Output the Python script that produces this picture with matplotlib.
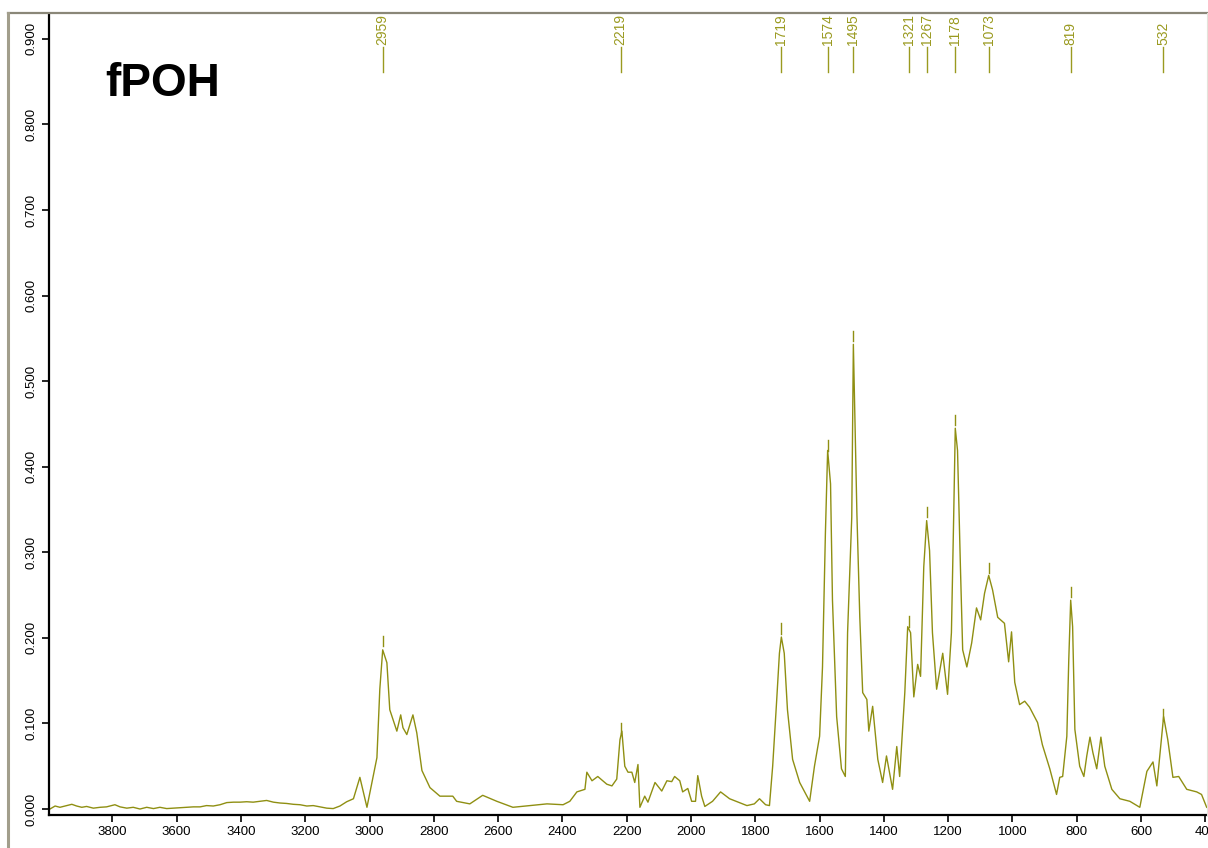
import numpy as np
import matplotlib
matplotlib.use("Agg")
import matplotlib.pyplot as plt
from matplotlib.lines import Line2D

# spectrum (wavenumber cm-1, absorbance)
wavenumber = [3994, 3978, 3963, 3942, 3926, 3911, 3895, 3880, 3859, 3838,
              3818, 3792, 3776, 3755, 3735, 3714, 3693, 3672, 3652, 3631,
              3610, 3590, 3569, 3548, 3527, 3507, 3486, 3465, 3444, 3423,
              3403, 3382, 3362, 3341, 3320, 3299, 3278, 3258, 3237, 3216,
              3195, 3175, 3154, 3133, 3113, 3092, 3071, 3050,
              3030, 3008, 2977, 2968, 2959, 2946, 2937,
              2915, 2903, 2896, 2884, 2865, 2853, 2837, 2812, 2781, 2741,
              2729, 2688, 2648, 2604, 2554, 2501, 2448, 2398, 2377, 2355,
              2330, 2324, 2308, 2290, 2262, 2246, 2231, 2221, 2215, 2206,
              2196, 2184, 2175, 2165, 2159, 2144, 2134, 2112, 2091, 2075,
              2060, 2051, 2035, 2026, 2010, 1998, 1986, 1979, 1967, 1957,
              1933, 1908, 1880, 1826, 1803, 1787, 1768, 1756, 1746, 1734,
              1725, 1719, 1710, 1700, 1684, 1662, 1631, 1616, 1600, 1591,
              1582, 1575, 1566, 1560, 1547, 1532, 1520, 1513, 1500, 1495,
              1484, 1475, 1466, 1453, 1447, 1435, 1419, 1404, 1392, 1373,
              1360, 1351, 1335, 1326, 1317, 1307, 1295, 1286, 1276, 1267,
              1258, 1249, 1236, 1217, 1202, 1190, 1183, 1178, 1171, 1162,
              1155, 1142, 1127, 1112, 1099, 1087, 1074, 1062, 1046, 1025,
              1012, 1003, 993, 978, 962, 947, 922, 907, 884, 863,
              853, 844, 831, 825, 819, 813, 806, 791, 778, 769,
              759, 750, 738, 725, 713, 691, 666, 635, 604, 582,
              563, 551, 535, 530, 517, 501, 483, 458, 427, 412, 396]
absorbance = [0.000, 0.0035, 0.002, 0.004, 0.0055, 0.0035, 0.002, 0.003, 0.001, 0.002,
              0.0025, 0.005, 0.0025, 0.001, 0.002, 0.000, 0.002, 0.0005, 0.002, 0.0005,
              0.001, 0.0015, 0.002, 0.0025, 0.0025, 0.004, 0.0035, 0.005, 0.0075, 0.008,
              0.008, 0.0085, 0.008, 0.009, 0.010, 0.008, 0.007, 0.0065, 0.0055, 0.005,
              0.0035, 0.004, 0.0025, 0.001, 0.0005, 0.0035, 0.0085, 0.012,
              0.037, 0.002, 0.06, 0.14, 0.186, 0.171, 0.116,
              0.091, 0.110, 0.095, 0.087, 0.110, 0.089, 0.045, 0.025, 0.015, 0.015,
              0.009, 0.006, 0.016, 0.009, 0.002, 0.004, 0.006, 0.005, 0.009, 0.02,
              0.023, 0.043, 0.033, 0.038, 0.029, 0.027, 0.035, 0.081, 0.091, 0.05,
              0.043, 0.043, 0.031, 0.052, 0.002, 0.015, 0.008, 0.031, 0.021, 0.033,
              0.032, 0.038, 0.033, 0.02, 0.024, 0.009, 0.009, 0.039, 0.015, 0.003,
              0.009, 0.02, 0.012, 0.004, 0.006, 0.012, 0.005, 0.004, 0.05, 0.124,
              0.182, 0.201, 0.182, 0.116, 0.058, 0.031, 0.009, 0.05, 0.085, 0.166,
              0.322, 0.419, 0.38, 0.244, 0.108, 0.047, 0.038, 0.206, 0.341, 0.543,
              0.345, 0.224, 0.136, 0.128, 0.091, 0.12, 0.058, 0.031, 0.062, 0.023,
              0.073, 0.038, 0.136, 0.213, 0.206, 0.131, 0.169, 0.155, 0.283, 0.337,
              0.302, 0.206, 0.14, 0.182, 0.134, 0.206, 0.341, 0.445, 0.419, 0.283,
              0.186, 0.166, 0.194, 0.235, 0.221, 0.252, 0.273, 0.256, 0.224, 0.217,
              0.172, 0.207, 0.148, 0.122, 0.126, 0.119, 0.101, 0.075, 0.047, 0.017,
              0.037, 0.038, 0.085, 0.174, 0.244, 0.213, 0.093, 0.05, 0.038, 0.062,
              0.084, 0.066, 0.047, 0.084, 0.05, 0.023, 0.012, 0.009, 0.002, 0.044,
              0.055, 0.027, 0.089, 0.108, 0.081, 0.037, 0.038, 0.023, 0.02, 0.017, 0.002]

peak_labels = [2959, 2219, 1719, 1574, 1495, 1321, 1267, 1178, 1073, 819, 532]
x_ticks = list(range(3800, 399, -200))
y_ticks = [0.0, 0.1, 0.2, 0.3, 0.4, 0.5, 0.6, 0.7, 0.8, 0.9]

line_col = "#8f8f12"
label_col = "#9a9a20"

plt.rcParams["font.family"] = ["Liberation Sans", "DejaVu Sans"]

fig = plt.figure(figsize=(12.08, 8.48), dpi=100)
ax = fig.add_axes([49 / 1208, 33 / 848, 1158 / 1208, 801 / 848])

ax.plot(wavenumber, absorbance, color=line_col, lw=1.0)

ax.set_xlim(3997, 395)
ax.set_ylim(-0.007, 0.929)
ax.set_xticks(x_ticks)
ax.set_xticklabels([str(t) for t in x_ticks], fontsize=9.5)
ax.set_yticks(y_ticks)
ax.set_yticklabels(["%.3f" % t for t in y_ticks], fontsize=9.5, rotation=90, va="center")
ax.tick_params(direction="out", length=5, width=1.2, color="black", pad=3)

for s in ["top", "right"]:
    ax.spines[s].set_visible(False)
for s in ["left", "bottom"]:
    ax.spines[s].set_linewidth(1.6)
    ax.spines[s].set_color("black")

# peak labels with their marker lines
wn_inc = wavenumber[::-1]
ab_inc = absorbance[::-1]
for p in peak_labels:
    h = np.interp(p, wn_inc, ab_inc)
    ax.plot([p, p], [h + 0.004, h + 0.016], color=line_col, lw=1.0)
    ax.plot([p, p], [0.861, 0.891], color=label_col, lw=1.0)
    ax.text(p, 0.893, str(p), rotation=90, ha="center", va="bottom",
            fontsize=10, color=label_col)

fig.text(105 / 1208, 1 - 96 / 848, "fPOH", fontsize=33, fontweight="bold",
         color="black", ha="left", va="baseline")

# window frame lines
fig.add_artist(Line2D([8 / 1208, 1], [1 - 13 / 848, 1 - 13 / 848], color="#8a8778", lw=1.6))
fig.add_artist(Line2D([8 / 1208, 8 / 1208], [0, 1 - 13 / 848], color="#a29e8c", lw=2.2))
fig.add_artist(Line2D([1206.5 / 1208, 1206.5 / 1208], [33 / 848, 1 - 13 / 848], color="#e4e2da", lw=0.8))

fig.savefig("out.png", dpi=100)
